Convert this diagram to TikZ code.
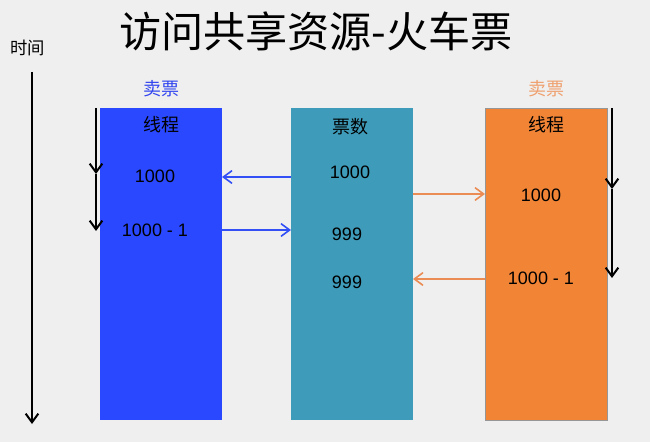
\documentclass[tikz,border=0pt]{standalone}
\usepackage{fontspec}
\setmainfont{Liberation Sans}
\newfontfamily\cjk{Noto Sans CJK SC}
\usetikzlibrary{arrows.meta}
\usetikzlibrary{positioning,calc}
\tikzset{>={Straight Barb[length=6.5pt,width=9.5pt]}}

\begin{document}
\begin{tikzpicture}[x=0.75pt,y=0.75pt,yscale=-1,xscale=1,
  column/.style={inner sep=0pt,outer sep=0pt,minimum width=91.5pt,minimum height=234pt},
  txt/.style={font=\fontsize{13.5}{16}\selectfont},
  cjktxt/.style={font=\cjk\fontsize{13.5}{16}\selectfont},
  timeline/.style={->,line width=1.5pt},
  flow/.style={->,line width=1.2pt}]
%Background [id:bg]
\fill [color={rgb, 255:red, 239; green, 239; blue, 239 }] (0,0) rectangle (650,442) ;

%Title
\node [font=\cjk\fontsize{31.6}{36}\selectfont] (title) at (316,31) {访问共享资源-火车票};
%Time label
\node [font=\cjk\fontsize{13}{16}\selectfont] (time) at (28,48) {时间};
%Time axis
\coordinate (t0) at (32,72) ;
\coordinate (t1) at (32,424) ;
\draw [timeline] (t0) -- (t1) ;

%Shape: Rectangle [id:blue]
\node [column,fill={rgb, 255:red, 42; green, 72; blue, 255 }] (blue) at (161,264) {};
%Shape: Rectangle [id:teal]
\node [column,fill={rgb, 255:red, 62; green, 155; blue, 185 }] (teal) at (352,264) {};
%Shape: Rectangle [id:orange]
\node [column,fill={rgb, 255:red, 242; green, 132; blue, 54 },draw={rgb, 255:red, 150; green, 150; blue, 150 },line width=0.4pt] (orange) at (546,264) {};

%Column headers
\node [cjktxt,text={rgb, 255:red, 50; green, 70; blue, 240 }] (sellA) at (161,89) {卖票};
\node [cjktxt,text={rgb, 255:red, 240; green, 160; blue, 110 }] (sellB) at (546,89) {卖票};

%Blue thread texts
\node [cjktxt] (threadA) at (161,125) {线程};
\node [txt] (aRead) at (155,176) {1000};
\node [txt] (aWrite) at (155,230) {1000 - 1};

%Ticket count texts
\node [cjktxt] (count) at (350,127) {票数};
\node [txt] (c0) at (350,172) {1000};
\node [txt] (c1) at (347,234) {999};
\node [txt] (c2) at (347,282) {999};

%Orange thread texts
\node [cjktxt] (threadB) at (546,125) {线程};
\node [txt] (bRead) at (541,195) {1000};
\node [txt] (bWrite) at (541,278) {1000 - 1};

%Straight Lines [id:blue read]
\draw [flow,color={rgb, 255:red, 50; green, 80; blue, 245 }] (teal.west |- 0,177) -- (blue.east |- 0,177) ;
%Straight Lines [id:blue write]
\draw [flow,color={rgb, 255:red, 50; green, 80; blue, 245 }] (blue.east |- aWrite) -- (teal.west |- aWrite) ;
%Straight Lines [id:orange read]
\draw [flow,color={rgb, 255:red, 235; green, 140; blue, 85 }] (teal.east |- 0,194) -- (orange.west |- 0,194) ;
%Straight Lines [id:orange write]
\draw [flow,color={rgb, 255:red, 235; green, 140; blue, 85 }] (orange.west |- 0,279) -- (teal.east |- 0,279) ;

%Thread time arrows
\coordinate (a0) at (96,108) ;
\coordinate (a1) at (96,174) ;
\coordinate (a2) at (96,231) ;
\draw [timeline] (a0) -- (a1) ;
\draw [timeline] (a1) -- (a2) ;
\coordinate (b0) at (612,108) ;
\coordinate (b1) at (612,189) ;
\coordinate (b2) at (612,278) ;
\draw [timeline] (b0) -- (b1) ;
\draw [timeline] (b1) -- (b2) ;
\end{tikzpicture}
\end{document}
